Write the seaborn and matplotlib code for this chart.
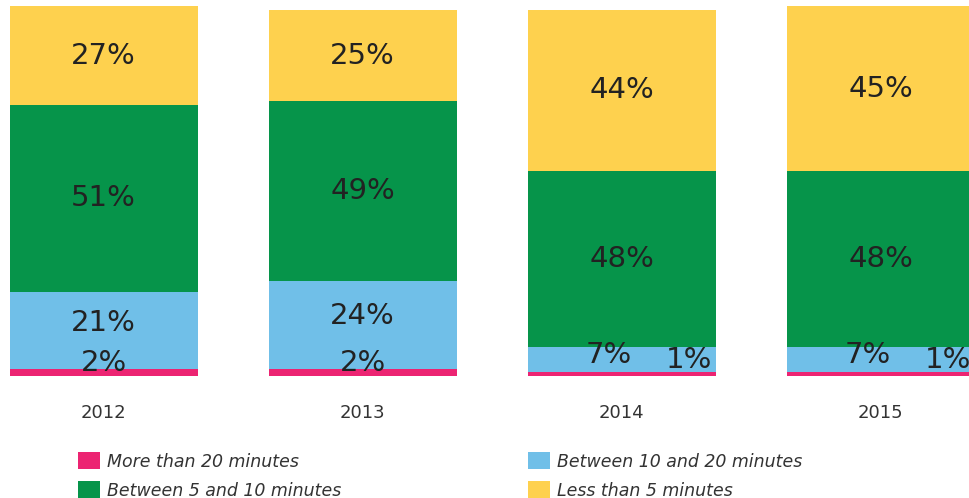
import numpy as np
import pandas as pd
import seaborn as sns
import matplotlib.pyplot as plt
from matplotlib.patches import Patch

# --- data ---
years = ['2012', '2013', '2014', '2015']
more_20 = [2, 2, 1, 1]          # More than 20 minutes
btw_10_20 = [21, 24, 7, 7]      # Between 10 and 20 minutes
btw_5_10 = [51, 49, 48, 48]     # Between 5 and 10 minutes
less_5 = [27, 25, 44, 45]       # Less than 5 minutes

series_names = ['More than 20 minutes', 'Between 10 and 20 minutes',
                'Between 5 and 10 minutes', 'Less than 5 minutes']
colors = ['#EC2472', '#70BFE8', '#06944A', '#FED14E']

df = pd.DataFrame({'Year': years, 'p': more_20, 'b': btw_10_20,
                   'g': btw_5_10, 'y': less_5})
df['c1'] = df['p']
df['c2'] = df['c1'] + df['b']
df['c3'] = df['c2'] + df['g']
df['c4'] = df['c3'] + df['y']

sns.set_style('white')
plt.rcParams['font.family'] = ['DejaVu Sans']

fig = plt.figure(figsize=(9.7, 4.98), dpi=100)
ax = fig.add_axes([0, 0.245, 1, 0.755])

# stacked bars: draw cumulative totals from the top layer down
for col, color in zip(['c4', 'c3', 'c2', 'c1'], colors[::-1]):
    sns.barplot(data=df, x='Year', y=col, color=color, saturation=1,
                width=0.726, ax=ax, linewidth=0)

txt = dict(ha='center', va='center', fontsize=21, color='#222222')
for i, row in df.iterrows():
    ax.text(i, row['c3'] + row['y'] / 2, f"{row['y']}%", **txt)
    ax.text(i, row['c2'] + row['g'] / 2, f"{row['g']}%", **txt)
    if row['b'] >= 10:
        ax.text(i, row['c1'] + row['b'] * 0.6, f"{row['b']}%", **txt)
        ax.text(i, row['c1'] + 1.5, f"{row['p']}%", **txt)
    else:
        ax.text(i - 0.05, row['c1'] + row['b'] / 2 + 1.2, f"{row['b']}%", **txt)
        ax.text(i + 0.26, row['c1'] + 3.4, f"{row['p']}%", **txt)

ax.set_xlim(-0.40, 3.344)
ax.set_ylim(0, 102.7)
ax.set_xlabel('')
ax.set_ylabel('')
ax.set_yticks([])
ax.tick_params(axis='x', length=0, pad=20, labelsize=13, labelcolor='#333333')
for s in ax.spines.values():
    s.set_visible(False)

# legend in two columns
handles = [Patch(facecolor=c, edgecolor='none') for c in colors]
leg_kw = dict(frameon=False, handlelength=1.3, handleheight=1.1, handletextpad=0.4,
              labelspacing=0.62, prop={'style': 'italic', 'size': 12.5},
              labelcolor='#333333', loc='upper left')
fig.legend([handles[0], handles[2]], [series_names[0], series_names[2]],
           bbox_to_anchor=(0.064, 0.123), **leg_kw)
fig.legend([handles[1], handles[3]], [series_names[1], series_names[3]],
           bbox_to_anchor=(0.528, 0.123), **leg_kw)

fig.savefig('out.png', dpi=100)
